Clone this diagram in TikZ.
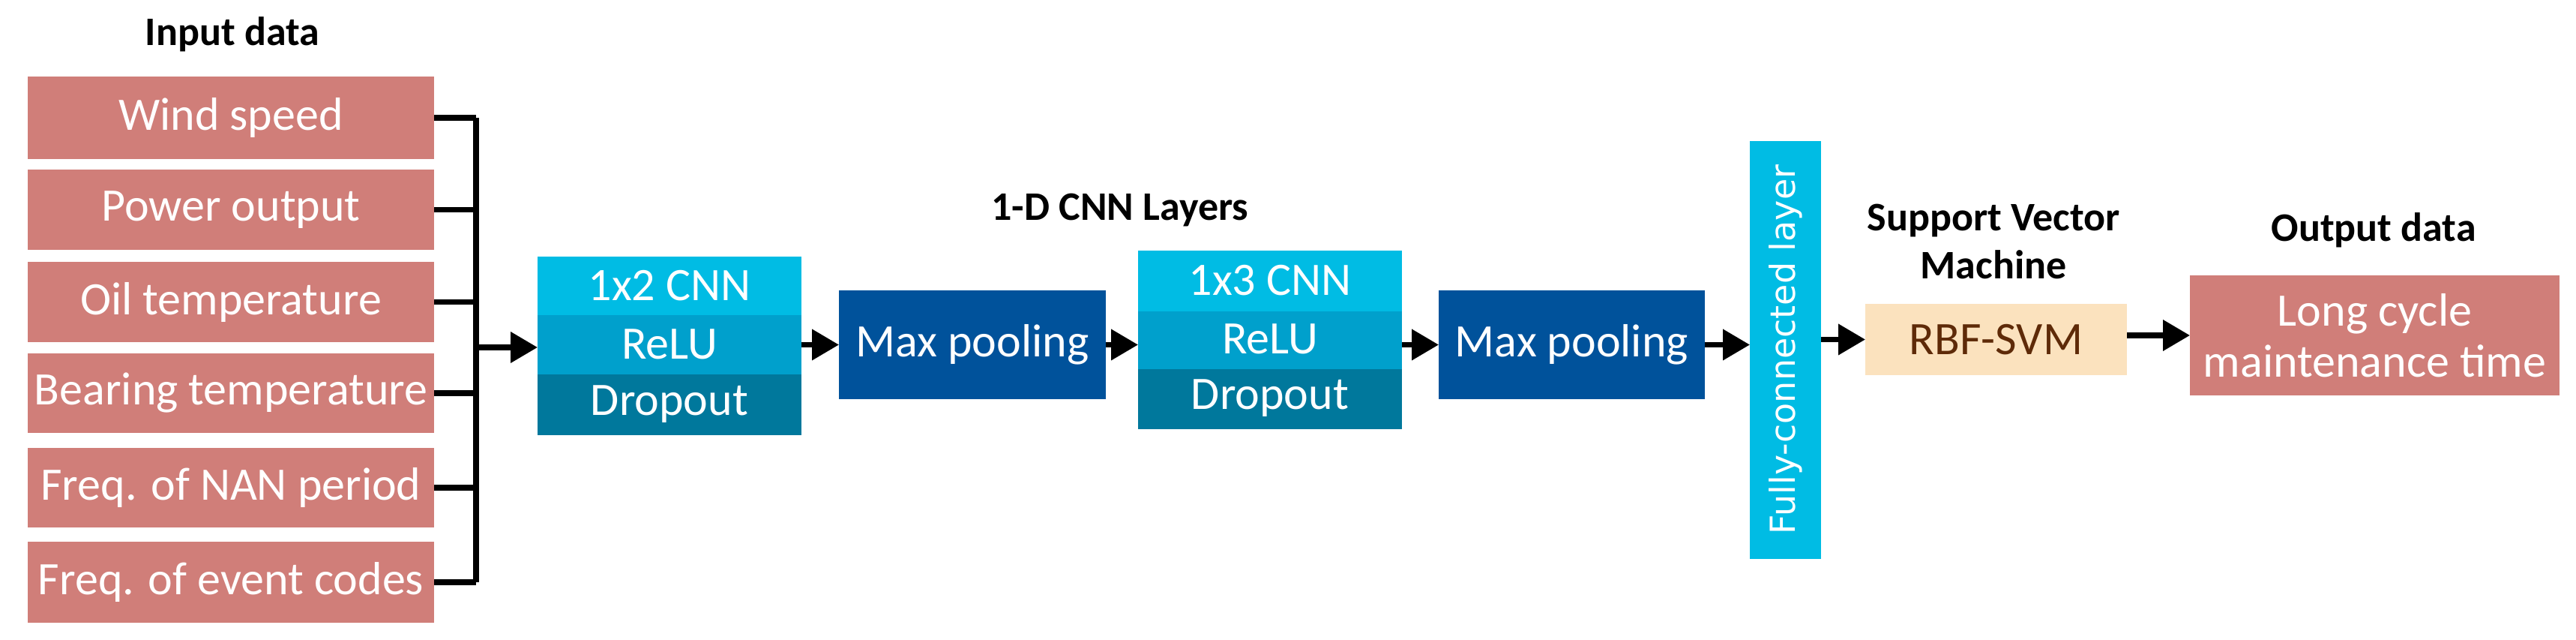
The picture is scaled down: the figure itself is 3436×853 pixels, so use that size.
\documentclass[tikz,border=0pt]{standalone}
\usepackage{fontspec}
\setmainfont{Carlito}
\newfontfamily\fcfont{DejaVu Sans}
\usetikzlibrary{arrows.meta}
\definecolor{pinkbox}{HTML}{D07E79}
\definecolor{cnnA}{HTML}{00BCE4}
\definecolor{cnnB}{HTML}{00A0CC}
\definecolor{cnnC}{HTML}{00789C}
\definecolor{poolc}{HTML}{00529B}
\definecolor{svmfill}{HTML}{FBE2BE}
\definecolor{svmtext}{HTML}{5E2A08}
\begin{document}
\begin{tikzpicture}[x={(0.25pt,0)},y={(0,-0.25pt)},
  box/.style={draw=none,inner sep=0,outer sep=0,text=white,font=\fontsize{15.5}{18}\selectfont,align=center},
  ttl/.style={font=\bfseries\fontsize{13.5}{16}\selectfont,align=center},
  con/.style={line width=1.8pt},
  arr/.style={line width=1.8pt,-{Triangle[length=9pt,width=10pt]}}]
\useasboundingbox (0,0) rectangle (3436,853);
\node[ttl] (tin) at (310,46) {Input data};
\foreach \n/\t/\b/\s in {a/102/212/Wind speed,b/226/333/Power output,c/349/456/Oil temperature,d/471/577/Bearing temperature,e/597/703/Freq. of NAN period,f/722/830/Freq. of event codes}{
  \path[fill=pinkbox] (37,\t) rectangle (579,\b);
  \node[box] (\n) at (308,{(\t+\b)/2}) [minimum width=542*0.25pt, minimum height={(\b-\t)*0.25pt}] {\s};
}
\coordinate (bt) at (635,157);
\coordinate (bb) at (635,776);
\coordinate (bm) at (635,463);
\foreach \n in {a,b,c,d,e,f}{ \draw[con] (\n.east) -- (\n.east -| bt); }
\draw[con] (bt) -- (bb);
% CNN1
\path[fill=cnnA] (717,342) rectangle (1069,420);
\path[fill=cnnB] (717,420) rectangle (1069,499);
\path[fill=cnnC] (717,499) rectangle (1069,580);
\node[box,minimum width=88pt,minimum height=59.5pt] (cnn1) at (893,461) {};
\node[box] at (893,381) {1x2 CNN};
\node[box] at (893,459) {ReLU};
\node[box] at (893,539) {Dropout};
\draw[arr] (bm) -- (bm -| cnn1.west);
% MP1
\node[box,fill=poolc,minimum width=89pt,minimum height=36.25pt] (mp1) at (1297,459.5) {Max pooling};
\draw[arr] (cnn1.east |- mp1) -- (mp1.west);
\node[ttl] (tcnn) at (1494,280) {1-D CNN Layers};
% CNN2
\path[fill=cnnA] (1518,334) rectangle (1870,415);
\path[fill=cnnB] (1518,415) rectangle (1870,492);
\path[fill=cnnC] (1518,492) rectangle (1870,572);
\node[box,minimum width=88pt,minimum height=59.5pt] (cnn2) at (1694,453) {};
\node[box] at (1694,374) {1x3 CNN};
\node[box] at (1694,452) {ReLU};
\node[box] at (1694,531) {Dropout};
\draw[arr] (mp1.east) -- (cnn2.west |- mp1);
\node[box,fill=poolc,minimum width=88.75pt,minimum height=36.25pt] (mp2) at (2096.5,459.5) {Max pooling};
\draw[arr] (cnn2.east |- mp2) -- (mp2.west);
% FC
\node[box,fill=cnnA,minimum width=23.75pt,minimum height=139.25pt] (fc) at (2381.5,466.5) {};
\node[text=white,rotate=90,font=\fcfont\fontsize{11.5}{14}\selectfont] at (2381.5,466) {Fully-connected layer};
\draw[arr] (mp2.east) -- (mp2.east -| fc.west);
% SVM
\node[ttl] (tsvm) at (2659,322) {Support Vector\\Machine};
\node[box,fill=svmfill,text=svmtext,minimum width=87.25pt,minimum height=23.75pt] (svm) at (2662.5,452.5) {RBF-SVM};
\draw[arr] (fc.east |- svm) -- (svm.west);
% Output
\node[ttl] (tout) at (3166,307) {Output data};
\node[box,fill=pinkbox,minimum width=123.25pt,minimum height=40pt,font=\fontsize{15.5}{17}\selectfont] (out) at (3167.5,447) {Long cycle\\maintenance time};
\draw[arr] (svm.east |- out) -- (out.west);
\end{tikzpicture}
\end{document}
